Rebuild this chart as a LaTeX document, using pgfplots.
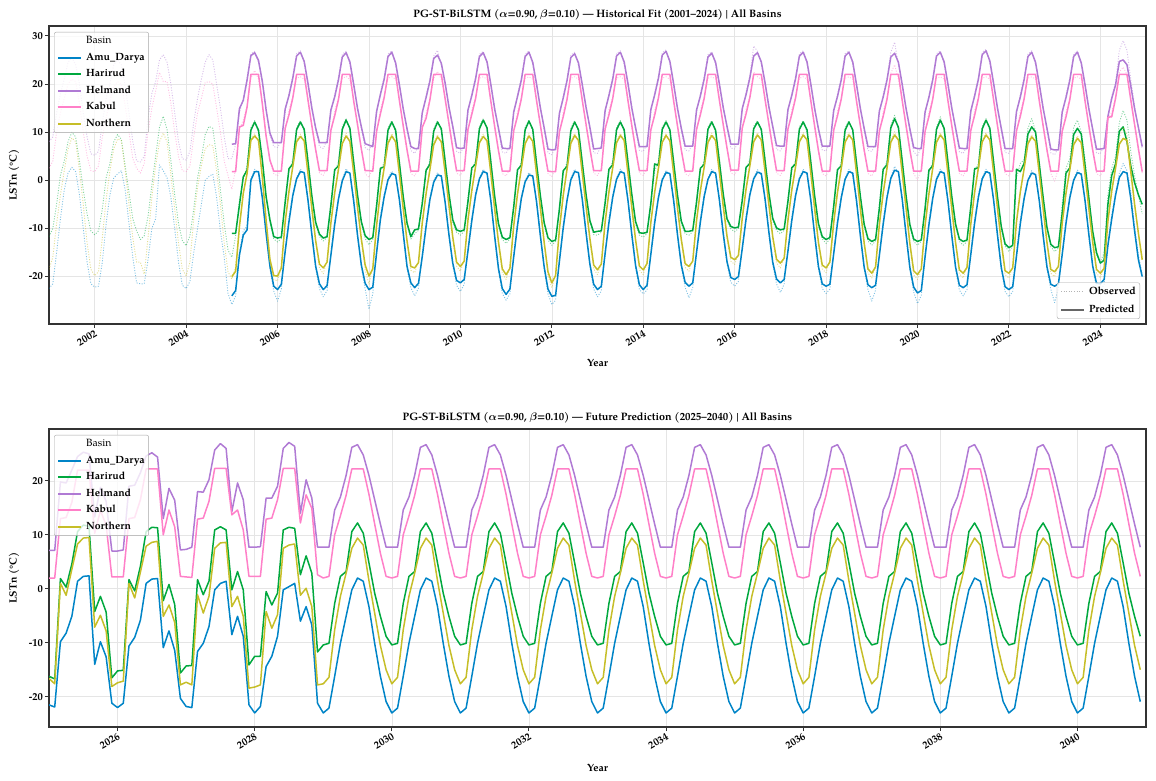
\documentclass[border=0pt]{standalone}
\usepackage{fontspec}
\setmainfont{TeX Gyre Pagella}
\usepackage{pgfplots}
\usepackage{pgfplotstable}
\pgfplotsset{compat=1.18}
\definecolor{cA}{RGB}{0,132,199}
\definecolor{cH}{RGB}{0,168,62}
\definecolor{cHe}{RGB}{176,122,212}
\definecolor{cK}{RGB}{255,128,200}
\definecolor{cN}{RGB}{198,190,40}
\newcommand\lbl{\bfseries\fontsize{10.5}{12}\selectfont}
\newcommand\ttl{\bfseries\boldmath\fontsize{10.8}{12}\selectfont}

\pgfplotstableread{
m A H He K N
0 -22.5 -11.7 8.0 2.5 -18.5
1 -21.5 -10.0 9.0 4.0 -16.0
2 -15.0 -5.0 14.0 10.0 -9.0
3 -8.0 1.0 18.0 14.0 -3.0
4 -2.0 4.0 21.0 17.0 2.0
5 1.5 8.0 24.5 20.0 6.5
6 2.7 10.0 25.5 21.0 8.8
7 1.8 9.0 24.0 20.5 8.0
8 -3.0 4.0 20.0 16.0 2.0
9 -10.0 -2.0 14.0 10.0 -5.0
10 -17.0 -7.0 9.0 5.0 -13.0
11 -21.5 -10.5 5.5 2.0 -18.5
12 -22.2 -11.3 5.2 1.8 -19.8
13 -22.0 -10.5 6.0 3.0 -19.0
14 -17.0 -6.0 12.0 9.0 -12.0
15 -9.0 0.5 17.0 13.0 -4.0
16 -3.0 3.5 20.0 16.5 2.0
17 0.5 8.0 24.0 19.5 6.5
18 1.3 9.5 25.0 20.5 8.6
19 2.0 8.5 24.0 20.0 8.2
20 -2.0 3.0 19.5 15.5 2.0
21 -9.0 -2.5 14.0 10.0 -5.0
22 -16.0 -8.0 8.0 4.5 -12.0
23 -21.3 -10.5 4.0 2.5 -17.0
24 -21.5 -12.3 3.8 1.5 -17.0
25 -21.5 -11.5 5.0 3.5 -19.5
26 -16.5 -7.5 13.0 10.0 -12.0
27 -10.0 -1.0 18.0 15.0 -3.5
28 -8.0 5.0 20.5 18.5 3.0
29 3.2 11.0 25.0 22.4 8.0
30 2.0 13.3 26.1 20.5 9.8
31 0.5 10.5 24.5 20.5 8.0
32 -3.5 4.0 20.0 16.0 1.0
33 -10.0 -3.0 14.0 10.0 -6.0
34 -17.0 -9.0 8.0 5.0 -13.0
35 -21.8 -12.5 4.5 2.0 -18.5
36 -22.5 -13.6 4.2 1.8 -19.8
37 -21.0 -11.5 6.0 3.0 -17.0
38 -15.0 -6.0 12.0 9.0 -8.0
39 -10.0 0.5 17.0 14.0 -1.5
40 -5.0 4.5 21.0 17.0 3.0
41 0.0 9.5 24.5 20.3 6.5
42 0.8 11.2 26.1 20.5 7.4
43 1.3 10.8 25.0 20.0 7.2
44 -3.5 5.0 20.0 15.0 2.0
45 -10.5 -2.0 15.0 10.0 -5.0
46 -16.0 -9.0 9.0 4.0 -13.0
47 -23.5 -14.5 4.5 1.0 -19.0
48 -25.8 -16.0 4.5 -1.9 -20.5
49 -24.0 -11.5 7.5 2.5 -18.0
50 -15.0 -4.0 14.0 10.5 -9.0
51 -10.5 0.2 17.0 12.5 -3.2
52 -9.5 3.0 21.3 15.5 2.0
53 0.3 10.9 26.3 21.2 8.6
54 2.3 12.4 26.8 22.8 9.7
55 1.5 9.9 24.4 21.0 8.0
56 -3.1 5.0 20.1 16.4 1.0
57 -11.5 -3.7 15.1 8.7 -8.8
58 -18.3 -8.7 9.3 3.9 -16.9
59 -23.0 -12.2 7.0 1.4 -20.6
60 -25.1 -12.8 6.8 0.9 -20.9
61 -22.6 -12.1 8.3 2.4 -17.9
62 -14.3 -3.6 14.3 10.3 -8.2
63 -7.8 1.9 18.1 14.6 -2.8
64 -2.7 4.2 21.7 17.4 3.3
65 0.6 11.0 26.3 21.2 8.3
66 2.3 12.4 26.9 21.5 9.6
67 1.3 10.1 24.2 21.0 7.9
68 -3.7 4.6 19.6 17.1 1.6
69 -11.7 -3.5 15.5 10.9 -6.3
70 -18.3 -9.2 10.4 6.1 -13.0
71 -22.5 -11.7 7.0 1.5 -18.2
72 -24.2 -12.6 6.6 1.0 -19.4
73 -22.9 -11.9 8.4 2.6 -16.6
74 -15.0 -4.4 14.0 9.8 -8.4
75 -8.5 1.6 17.9 14.5 -3.1
76 -3.4 3.9 21.4 17.2 2.8
77 0.2 11.2 26.2 21.1 8.0
78 2.4 12.9 26.8 21.6 9.8
79 1.2 10.2 24.0 20.9 7.8
80 -3.8 4.5 19.4 16.9 1.7
81 -11.9 -3.4 15.4 11.1 -6.1
82 -18.1 -9.1 10.6 6.2 -12.7
83 -22.6 -12.1 6.8 1.4 -18.6
84 -26.8 -13.4 6.2 0.6 -21.6
85 -23.6 -12.3 7.6 2.5 -18.0
86 -14.6 -4.4 13.8 9.7 -8.9
87 -7.4 2.0 18.3 14.8 -2.9
88 -2.9 3.7 21.5 17.5 3.1
89 0.4 10.9 26.2 21.2 8.0
90 1.9 12.4 26.9 21.5 9.7
91 0.8 9.9 23.9 21.0 7.7
92 -3.6 4.3 19.3 17.0 1.5
93 -11.5 -3.7 15.3 10.8 -6.4
94 -18.4 -9.4 10.2 6.0 -13.1
95 -22.3 -12.2 6.2 1.4 -18.7
96 -24.0 -11.1 5.6 0.9 -19.2
97 -22.4 -10.4 7.1 2.4 -16.8
98 -15.3 -3.8 13.6 10.5 -8.3
99 -8.8 1.6 17.7 13.9 -3.2
100 -3.5 4.1 21.1 17.0 2.7
101 -0.1 10.7 25.8 21.2 7.7
102 1.6 12.4 27.0 22.6 9.5
103 0.6 10.2 23.8 21.0 7.7
104 -4.1 4.7 19.7 17.4 1.9
105 -11.8 -3.1 15.7 11.3 -5.7
106 -17.7 -8.7 10.7 6.4 -12.3
107 -21.8 -10.8 6.0 1.5 -17.8
108 -23.1 -11.4 5.6 1.0 -18.9
109 -21.6 -10.6 7.2 2.5 -16.5
110 -14.1 -3.4 14.1 10.1 -7.7
111 -7.6 2.1 18.1 14.7 -2.6
112 -2.6 4.2 21.6 17.3 3.4
113 0.6 11.2 26.2 21.2 8.1
114 2.3 12.8 26.8 21.5 9.6
115 1.2 10.4 24.1 21.0 7.9
116 -3.8 4.5 19.4 16.9 1.7
117 -12.1 -3.6 15.3 10.7 -6.4
118 -18.8 -9.5 10.3 5.9 -13.3
119 -23.5 -12.3 5.9 1.4 -19.2
120 -24.9 -13.1 5.6 0.9 -20.6
121 -23.6 -12.2 7.1 2.4 -18.0
122 -15.4 -4.6 13.7 9.8 -9.0
123 -8.6 1.7 17.9 14.3 -3.3
124 -3.3 3.9 21.3 17.2 2.9
125 0.0 11.0 26.2 21.2 7.9
126 1.6 12.6 26.9 21.5 9.7
127 0.6 10.1 24.0 21.0 7.8
128 -4.0 4.2 19.5 17.0 1.6
129 -12.0 -3.5 15.5 11.0 -6.2
130 -18.5 -9.3 10.4 6.1 -13.4
131 -23.6 -12.4 5.7 1.4 -19.8
132 -25.8 -13.5 5.3 0.8 -22.3
133 -24.9 -12.7 6.9 2.3 -19.5
134 -16.3 -5.0 13.4 9.6 -9.7
135 -9.1 1.5 17.6 14.2 -3.6
136 -3.7 3.7 21.2 17.1 2.8
137 0.4 10.8 26.0 21.2 8.0
138 2.3 12.4 26.6 21.5 9.8
139 1.3 10.0 23.9 21.0 8.0
140 -3.5 4.4 19.4 17.1 1.8
141 -11.4 -3.3 15.6 11.1 -5.9
142 -17.9 -8.9 10.5 6.3 -12.6
143 -22.6 -11.3 5.7 1.5 -18.4
144 -24.2 -11.4 5.6 1.0 -19.6
145 -23.0 -10.8 7.2 2.5 -17.1
146 -14.7 -3.7 14.0 10.2 -8.2
147 -8.0 1.8 18.1 14.6 -2.9
148 -3.0 4.0 21.5 17.3 3.1
149 0.5 11.0 26.3 21.2 8.1
150 2.3 12.4 26.9 21.5 9.8
151 1.2 10.0 24.1 21.0 8.0
152 -3.7 4.5 19.6 17.0 1.7
153 -11.7 -3.2 15.5 10.9 -6.1
154 -18.2 -9.1 10.4 6.1 -12.9
155 -22.7 -11.4 6.2 1.5 -18.6
156 -23.6 -11.8 6.0 1.0 -19.6
157 -22.8 -11.1 7.5 2.5 -17.0
158 -14.9 -3.9 14.2 10.0 -8.3
159 -8.1 1.9 18.2 14.5 -3.0
160 -3.1 3.9 21.7 17.4 3.0
161 0.4 11.1 26.5 21.2 8.2
162 2.1 12.4 27.1 21.5 9.8
163 1.1 10.0 24.2 21.0 7.9
164 -3.8 4.4 19.5 16.9 1.6
165 -11.8 -3.4 15.4 10.8 -6.2
166 -18.1 -9.0 10.3 6.0 -12.8
167 -22.2 -11.1 6.3 1.4 -18.1
168 -24.4 -11.4 6.1 0.9 -18.9
169 -22.3 -10.7 7.6 2.4 -16.5
170 -14.5 -3.6 14.1 10.1 -7.9
171 -7.9 2.0 18.0 14.6 -2.7
172 -2.9 4.1 21.5 17.3 3.2
173 0.5 11.1 26.1 21.2 8.2
174 2.3 12.4 26.7 21.5 9.8
175 1.2 9.9 24.0 21.0 8.0
176 -3.6 4.6 19.5 17.1 1.9
177 -11.5 -3.1 15.6 11.1 -5.8
178 -17.4 -8.5 10.7 6.4 -12.1
179 -21.2 -10.1 6.7 1.6 -16.8
180 -22.0 -10.7 6.5 1.1 -17.5
181 -21.0 -10.0 8.0 2.6 -15.3
182 -13.7 -3.2 14.4 10.4 -7.4
183 -7.3 2.2 18.3 14.8 -2.3
184 -2.5 4.3 21.8 17.5 3.5
185 0.6 11.2 27.9 22.5 8.3
186 2.2 12.4 26.8 21.5 9.9
187 1.1 10.1 24.1 21.0 8.1
188 -3.5 4.7 19.7 17.2 2.0
189 -11.3 -3.0 15.7 11.2 -5.6
190 -17.5 -8.4 10.7 6.4 -12.2
191 -21.5 -10.4 6.4 1.5 -17.2
192 -23.3 -11.1 6.1 1.0 -18.2
193 -21.6 -10.4 7.6 2.5 -15.9
194 -14.2 -3.4 14.2 10.2 -7.8
195 -7.6 2.1 18.1 14.7 -2.5
196 -2.7 4.2 21.6 17.4 3.3
197 0.6 11.1 26.3 21.2 8.3
198 2.3 12.4 26.9 21.5 9.9
199 1.2 10.0 24.1 21.0 8.1
200 -3.7 4.5 19.5 17.0 1.8
201 -11.8 -3.5 15.4 10.8 -6.3
202 -18.4 -9.5 10.2 5.9 -13.4
203 -22.5 -12.2 6.3 1.4 -18.4
204 -23.5 -13.1 6.1 0.9 -19.2
205 -22.6 -12.2 7.6 2.4 -16.7
206 -14.8 -4.5 14.0 9.9 -8.4
207 -8.1 1.7 17.9 14.4 -3.0
208 -3.1 3.8 21.4 17.2 3.0
209 0.5 10.9 26.3 21.2 8.2
210 2.3 12.4 26.9 21.5 9.9
211 1.2 10.0 24.1 21.0 8.1
212 -3.8 4.3 19.4 16.9 1.7
213 -11.9 -3.6 15.4 10.9 -6.3
214 -18.5 -9.6 10.3 6.0 -13.5
215 -22.7 -12.6 6.2 1.4 -19.2
216 -25.1 -13.5 6.0 0.9 -20.3
217 -22.8 -12.6 7.5 2.4 -17.7
218 -15.1 -4.8 13.9 9.8 -8.7
219 -8.3 1.8 17.8 14.3 -3.1
220 -3.1 4.0 21.3 17.1 3.0
221 0.7 11.4 26.6 22.2 8.2
222 2.9 13.5 28.7 24.0 10.1
223 1.5 10.5 24.0 21.0 8.1
224 -3.5 4.7 19.4 17.0 1.8
225 -11.7 -3.5 15.4 10.9 -6.2
226 -18.6 -9.7 10.2 6.0 -13.6
227 -23.2 -12.7 6.0 1.4 -19.6
228 -25.6 -13.5 5.0 0.0 -20.6
229 -23.9 -12.7 7.1 2.4 -18.1
230 -15.4 -4.9 13.7 9.7 -8.9
231 -8.5 1.6 17.7 14.2 -3.3
232 -3.3 3.8 21.3 17.1 2.9
233 0.5 11.1 26.3 21.2 8.2
234 2.3 13.2 26.9 21.5 9.9
235 1.2 10.3 24.1 21.0 8.1
236 -3.8 4.5 19.5 17.0 1.7
237 -11.9 -3.6 15.5 10.9 -6.3
238 -18.5 -9.6 10.4 6.1 -13.4
239 -22.8 -12.7 5.9 1.4 -19.4
240 -24.0 -13.5 5.6 0.9 -20.3
241 -22.7 -12.7 7.1 2.4 -17.8
242 -14.9 -4.6 13.9 9.9 -8.6
243 -8.1 1.9 18.0 14.5 -3.0
244 -3.0 3.4 21.5 17.3 3.1
245 0.6 11.2 26.6 21.2 8.3
246 2.3 12.8 27.2 21.5 9.9
247 1.2 10.3 24.3 21.0 8.1
248 -3.7 4.4 19.6 17.1 1.8
249 -11.8 -3.7 15.5 10.9 -6.2
250 -18.6 -10.1 10.3 6.0 -13.4
251 -23.1 -13.7 5.8 1.4 -19.6
252 -24.2 -14.8 5.6 0.9 -20.3
253 -23.1 -13.8 7.1 2.4 -17.9
254 -15.2 0.5 13.8 9.8 -8.1
255 -8.2 3.5 17.8 14.3 -2.9
256 -3.3 4.3 21.4 17.2 2.9
257 0.3 10.8 26.2 21.2 7.9
258 2.0 12.8 26.9 21.5 9.5
259 0.9 10.2 24.0 21.0 7.8
260 -3.9 4.0 19.4 16.9 1.5
261 -12.0 -3.9 15.4 10.8 -6.4
262 -18.5 -10.3 10.3 6.0 -13.4
263 -22.6 -13.8 5.7 1.4 -19.3
264 -25.4 -14.8 5.3 -0.2 -20.0
265 -22.5 -14.1 6.8 2.4 -17.6
266 -14.9 -5.0 13.7 9.7 -8.4
267 -8.1 2.5 17.7 14.2 -3.1
268 -3.1 4.5 21.3 17.1 2.7
269 0.3 11.0 26.2 21.2 7.7
270 2.1 12.5 26.9 21.5 9.2
271 1.0 10.0 23.9 21.0 7.5
272 -3.8 4.5 19.3 16.9 1.4
273 -11.8 -3.0 15.3 10.8 -6.4
274 -18.3 -11.1 10.1 6.0 -13.3
275 -22.4 -15.5 5.7 1.4 -19.3
276 -23.0 -17.0 5.5 0.9 -20.3
277 -21.6 -15.0 7.1 2.4 -18.0
278 -13.0 -3.0 12.8 12.6 -8.0
279 -7.2 2.5 17.5 14.2 -2.7
280 -2.6 5.0 20.3 17.3 3.0
281 1.5 12.0 27.0 22.5 9.0
282 3.5 14.5 29.0 23.5 11.0
283 2.0 12.5 27.0 22.0 9.5
284 -2.5 6.0 21.0 17.5 3.0
285 -9.5 1.0 15.5 11.5 -4.5
286 -15.5 -3.0 10.5 6.0 -11.5
287 -19.5 -7.0 6.5 1.5 -16.0
}\obstop

\pgfplotstableread{
m A H He K N
48 -24.0 -11.0 7.5 1.8 -20.0
49 -22.9 -11.0 7.6 1.8 -18.9
50 -15.5 -5.1 14.9 11.1 -9.6
51 -11.4 0.7 16.6 11.4 -2.7
52 -10.3 2.1 20.8 15.2 1.4
53 0.0 10.4 25.9 22.0 8.3
54 1.8 12.1 26.5 22.0 9.2
55 1.8 10.4 24.9 22.0 8.3
56 -3.6 4.2 20.6 15.9 0.7
57 -11.0 -3.4 14.6 9.2 -8.3
58 -17.8 -8.2 9.8 4.2 -16.4
59 -22.0 -11.7 7.8 1.9 -19.8
60 -22.7 -12.0 7.8 1.9 -19.9
61 -21.6 -11.8 7.8 1.9 -18.2
62 -14.8 -4.6 14.8 10.8 -8.7
63 -8.6 2.4 17.6 13.6 -2.3
64 -3.2 3.4 21.2 17.1 2.8
65 0.3 10.5 25.8 22.0 8.0
66 1.8 12.1 26.6 22.0 9.1
67 1.6 10.6 24.7 22.0 8.2
68 -4.2 3.8 20.1 16.6 1.3
69 -11.2 -3.2 15.0 11.4 -5.8
70 -17.8 -8.7 10.9 6.4 -12.5
71 -21.5 -11.2 7.8 2.0 -17.4
72 -22.7 -12.0 7.8 2.0 -18.2
73 -21.9 -11.7 7.8 2.0 -17.0
74 -15.6 -5.3 14.6 10.4 -8.9
75 -9.2 2.2 17.3 13.4 -2.6
76 -3.9 3.0 20.9 16.8 2.3
77 -0.1 10.6 25.6 22.0 7.6
78 1.8 12.5 26.5 22.0 9.2
79 1.5 10.8 24.6 22.0 8.1
80 -4.4 3.6 19.9 16.4 1.4
81 -11.4 -3.1 14.9 11.6 -5.6
82 -17.6 -8.6 11.1 6.5 -12.2
83 -21.4 -11.5 7.6 2.0 -17.6
84 -22.7 -12.3 7.3 2.0 -19.9
85 -22.2 -11.9 7.0 1.9 -18.4
86 -15.1 -5.4 14.3 10.2 -9.4
87 -8.2 2.5 17.8 13.8 -2.4
88 -3.4 2.8 21.0 17.2 2.6
89 0.1 10.4 25.7 22.0 7.7
90 1.4 12.1 26.6 22.0 9.2
91 1.1 10.4 24.4 22.0 8.0
92 -4.1 3.5 19.8 16.5 1.2
93 -11.0 -3.4 14.8 11.3 -5.9
94 -17.9 -8.9 10.7 6.3 -12.6
95 -21.3 -11.7 7.0 1.9 -17.9
96 -22.3 -10.3 6.6 1.9 -18.2
97 -21.4 -10.1 6.6 1.9 -17.1
98 -15.8 -4.8 14.1 11.0 -8.8
99 -9.6 2.1 17.2 12.9 -2.7
100 -4.0 3.3 20.6 16.7 2.2
101 -0.4 10.2 25.3 22.0 7.4
102 1.1 12.1 26.0 22.0 9.0
103 0.9 10.7 24.3 22.0 8.0
104 -4.6 3.9 20.2 16.9 1.6
105 -11.3 -2.8 15.2 11.8 -5.2
106 -17.2 -8.2 11.2 6.7 -11.8
107 -20.8 -10.3 6.8 2.0 -17.0
108 -21.3 -10.6 6.6 2.0 -17.9
109 -20.6 -10.3 6.7 2.0 -16.8
110 -14.6 -4.4 14.6 10.6 -8.2
111 -8.4 2.6 17.6 13.7 -2.1
112 -3.1 3.4 21.1 17.0 2.9
113 0.3 10.7 25.7 22.0 7.8
114 1.8 12.5 26.5 22.0 9.1
115 1.5 10.9 24.6 22.0 8.2
116 -4.3 3.7 19.9 16.4 1.4
117 -11.6 -3.3 14.8 11.2 -5.9
118 -18.3 -9.0 10.8 6.2 -12.8
119 -22.5 -11.8 6.7 1.9 -18.4
120 -23.7 -12.3 6.6 1.9 -19.6
121 -22.6 -11.9 6.6 1.9 -18.3
122 -15.9 -5.6 14.2 10.3 -9.5
123 -9.4 2.2 17.4 13.3 -2.8
124 -3.8 3.1 20.8 16.9 2.4
125 -0.3 10.5 25.7 22.0 7.6
126 1.1 12.3 26.6 22.0 9.2
127 0.9 10.6 24.5 22.0 8.1
128 -4.5 3.4 20.0 16.5 1.3
129 -11.5 -3.2 15.0 11.5 -5.7
130 -18.0 -8.8 10.9 6.4 -12.9
131 -22.6 -11.9 6.5 1.9 -19.0
132 -24.1 -12.7 6.3 1.8 -21.3
133 -23.9 -12.4 6.4 1.8 -19.8
134 -16.8 -6.0 13.9 10.1 -10.2
135 -9.9 2.0 17.1 13.2 -3.1
136 -4.2 2.9 20.7 16.8 2.3
137 0.1 10.3 25.5 22.0 7.7
138 1.8 12.1 26.3 22.0 9.3
139 1.6 10.5 24.4 22.0 8.3
140 -4.0 3.6 19.9 16.6 1.5
141 -10.9 -3.0 15.1 11.6 -5.4
142 -17.4 -8.4 11.0 6.6 -12.1
143 -21.6 -10.8 6.5 2.0 -17.6
144 -22.7 -10.6 6.6 2.0 -18.6
145 -22.0 -10.5 6.7 2.0 -17.4
146 -15.2 -4.7 14.5 10.7 -8.7
147 -8.8 2.3 17.6 13.6 -2.4
148 -3.5 3.2 21.0 17.0 2.6
149 0.2 10.5 25.8 22.0 7.8
150 1.8 12.1 26.6 22.0 9.3
151 1.5 10.5 24.6 22.0 8.3
152 -4.2 3.7 20.1 16.5 1.4
153 -11.2 -2.9 15.0 11.4 -5.6
154 -17.7 -8.6 10.9 6.4 -12.4
155 -21.7 -10.9 7.0 2.0 -17.8
156 -22.7 -11.0 7.0 2.0 -18.6
157 -21.8 -10.8 7.0 2.0 -17.3
158 -15.4 -4.9 14.7 10.5 -8.8
159 -8.9 3.4 17.7 13.5 -2.5
160 -3.6 3.1 21.2 17.1 2.5
161 0.1 10.6 26.0 22.0 7.9
162 1.6 12.1 26.8 22.0 9.3
163 1.4 10.5 24.7 22.0 8.2
164 -4.3 3.6 20.0 16.4 1.3
165 -11.3 -3.1 14.9 11.3 -5.7
166 -17.6 -8.5 10.8 6.3 -12.3
167 -21.2 -10.6 7.1 1.9 -17.3
168 -22.0 -10.6 7.1 1.9 -17.9
169 -21.3 -10.4 7.1 1.9 -16.8
170 -15.0 -4.6 14.6 10.6 -8.4
171 -8.7 2.5 17.5 13.6 -2.2
172 -3.4 3.3 21.0 17.0 2.7
173 0.2 10.6 25.6 22.0 7.9
174 1.8 12.1 26.4 22.0 9.3
175 1.5 10.4 24.5 22.0 8.3
176 -4.1 3.8 20.0 16.6 1.6
177 -11.0 -2.8 15.1 11.6 -5.3
178 -16.9 -8.0 11.2 6.7 -11.6
179 -20.2 -9.6 7.5 2.1 -16.0
180 -20.6 -9.9 7.5 2.1 -16.5
181 -20.0 -9.7 7.5 2.1 -15.6
182 -14.2 -4.2 14.9 10.9 -7.9
183 -8.1 2.7 17.8 13.8 -1.8
184 -3.0 3.5 21.3 17.2 3.0
185 0.3 10.7 25.8 22.0 8.0
186 1.7 12.1 26.5 22.0 9.4
187 1.4 10.6 24.6 22.0 8.4
188 -4.0 3.9 20.2 16.7 1.7
189 -10.8 -2.7 15.2 11.7 -5.1
190 -17.0 -7.9 11.2 6.7 -11.7
191 -20.5 -9.9 7.2 2.0 -16.4
192 -21.3 -10.3 7.1 2.0 -17.2
193 -20.6 -10.1 7.1 2.0 -16.2
194 -14.7 -4.4 14.7 10.7 -8.3
195 -8.4 2.6 17.6 13.7 -2.0
196 -3.2 3.4 21.1 17.1 2.8
197 0.3 10.6 25.8 22.0 8.0
198 1.8 12.1 26.6 22.0 9.4
199 1.5 10.5 24.6 22.0 8.4
200 -4.2 3.7 20.0 16.5 1.5
201 -11.3 -3.2 14.9 11.3 -5.8
202 -17.9 -9.0 10.7 6.2 -12.9
203 -21.5 -11.7 7.1 1.9 -17.6
204 -22.0 -12.3 7.1 1.9 -18.2
205 -21.6 -11.9 7.1 1.9 -17.0
206 -15.3 -5.5 14.5 10.4 -8.9
207 -8.9 2.2 17.4 13.4 -2.5
208 -3.6 3.0 20.9 16.9 2.5
209 0.2 10.4 25.8 22.0 7.9
210 1.8 12.1 26.6 22.0 9.4
211 1.5 10.5 24.6 22.0 8.4
212 -4.3 3.5 19.9 16.4 1.4
213 -11.4 -3.3 14.9 11.4 -5.8
214 -18.0 -9.1 10.8 6.3 -13.0
215 -21.7 -12.1 7.0 1.9 -18.4
216 -22.3 -12.7 7.0 1.9 -19.3
217 -21.8 -12.3 7.0 1.9 -18.0
218 -15.6 -5.8 14.4 10.3 -9.2
219 -9.1 2.3 17.3 13.3 -2.6
220 -3.6 3.2 20.8 16.8 2.5
221 0.4 10.9 25.6 22.0 7.9
222 2.1 12.8 26.4 22.0 9.4
223 1.8 11.0 24.5 22.0 8.4
224 -4.0 3.9 19.9 16.5 1.5
225 -11.2 -3.2 14.9 11.4 -5.7
226 -18.1 -9.2 10.7 6.3 -13.1
227 -22.2 -12.2 6.8 1.9 -18.8
228 -23.4 -12.7 6.6 1.9 -19.6
229 -22.9 -12.4 6.6 1.9 -18.4
230 -15.9 -5.9 14.2 10.2 -9.4
231 -9.3 2.1 17.2 13.2 -2.8
232 -3.8 3.0 20.8 16.8 2.4
233 0.2 10.6 25.8 22.0 7.9
234 1.8 12.5 26.6 22.0 9.4
235 1.5 10.8 24.6 22.0 8.4
236 -4.3 3.7 20.0 16.5 1.4
237 -11.4 -3.3 15.0 11.4 -5.8
238 -18.0 -9.1 10.9 6.4 -12.9
239 -21.8 -12.2 6.7 1.9 -18.6
240 -22.3 -12.7 6.6 1.9 -19.3
241 -21.7 -12.4 6.6 1.9 -18.1
242 -15.4 -5.6 14.4 10.4 -9.1
243 -8.9 2.4 17.5 13.5 -2.5
244 -3.5 2.6 21.0 17.0 2.6
245 0.3 10.7 26.1 22.0 8.0
246 1.8 12.5 26.9 22.0 9.4
247 1.5 10.8 24.8 22.0 8.4
248 -4.2 3.6 20.1 16.6 1.5
249 -11.3 -3.4 15.0 11.4 -5.7
250 -18.1 -9.6 10.8 6.3 -12.9
251 -22.1 -13.2 6.6 1.9 -18.8
252 -22.7 -14.0 6.6 1.9 -19.3
253 -22.1 -13.5 6.6 1.9 -18.2
254 -15.7 2.3 14.3 10.3 -8.6
255 -9.0 1.8 17.3 13.3 -2.4
256 -3.8 3.5 20.9 16.9 2.4
257 0.0 9.6 25.7 22.0 7.6
258 1.5 11.1 26.6 22.0 9.0
259 1.2 10.0 24.5 22.0 8.1
260 -4.4 3.2 19.9 16.4 1.2
261 -11.5 -3.6 14.9 11.3 -5.9
262 -18.0 -9.8 10.8 6.3 -12.9
263 -21.6 -13.3 6.5 1.9 -18.5
264 -22.0 -14.0 6.3 1.9 -19.0
265 -21.5 -13.8 6.3 1.9 -17.9
266 -15.4 -6.8 14.2 10.2 -8.9
267 -8.9 1.5 17.2 13.2 -2.6
268 -3.6 2.6 20.8 16.8 2.2
269 0.0 9.5 25.7 22.0 7.4
270 1.6 10.8 26.6 22.0 8.7
271 1.3 9.6 24.4 22.0 7.8
272 -4.3 3.0 19.8 16.4 1.1
273 -11.3 -3.8 14.8 11.3 -5.9
274 -17.8 -10.6 10.6 6.3 -12.8
275 -21.4 -15.0 6.5 1.9 -18.5
276 -21.5 -17.2 6.5 1.9 -19.3
277 -20.6 -16.6 6.6 1.9 -18.3
278 -13.5 -5.0 13.3 13.1 -8.5
279 -8.0 1.0 17.0 13.2 -2.2
280 -3.1 3.4 19.8 17.0 2.5
281 0.6 10.2 24.7 22.0 7.5
282 1.8 11.1 25.0 22.0 8.7
283 1.5 8.0 24.0 22.0 8.3
284 -3.8 3.0 19.6 16.7 1.8
285 -10.5 -0.5 14.9 11.6 -5.0
286 -16.5 -3.0 11.0 6.6 -11.0
287 -20.0 -5.0 7.0 1.8 -16.5
}\predtop

\pgfplotstableread{
m A H He K N
0 -21.5 -16.2 7.1 2.0 -16.6
1 -21.9 -16.7 7.1 2.0 -17.6
2 -9.8 1.9 19.8 13.0 1.0
3 -8.2 0.3 19.6 13.2 -1.2
4 -5.1 4.6 22.0 16.0 3.6
5 1.4 10.6 24.5 22.0 8.3
6 2.3 11.8 25.3 22.0 9.4
7 2.4 11.6 25.0 22.0 9.5
8 -14.0 -4.2 13.3 10.3 -7.1
9 -9.8 -1.4 18.8 14.5 -4.9
10 -12.6 -4.3 16.2 11.8 -7.8
11 -21.2 -16.5 7.0 2.2 -18.1
12 -22.0 -15.2 7.0 2.2 -17.4
13 -21.2 -15.1 7.2 2.2 -17.1
14 -10.6 1.7 19.0 13.0 1.0
15 -9.0 -0.4 19.2 13.2 -1.7
16 -5.8 4.2 21.5 16.5 3.1
17 1.0 10.6 24.6 22.2 7.9
18 1.8 11.4 25.2 22.2 8.6
19 1.9 11.3 24.4 22.2 8.8
20 -10.9 -2.2 13.0 10.0 -5.1
21 -7.8 0.8 18.6 14.6 -3.0
22 -11.4 -2.9 16.4 11.5 -6.2
23 -20.3 -15.6 7.2 2.3 -17.8
24 -21.8 -14.3 7.3 2.2 -17.3
25 -22.0 -14.2 7.7 2.1 -17.8
26 -11.6 1.7 18.0 12.9 -1.1
27 -10.1 -1.1 17.9 13.1 -4.5
28 -7.0 1.4 20.2 16.2 -1.4
29 -0.2 10.9 25.7 22.3 7.5
30 1.0 11.5 26.9 22.3 8.5
31 1.4 10.9 26.0 22.3 8.6
32 -8.5 -0.2 14.3 13.7 -3.3
33 -5.1 3.2 19.6 14.6 -1.4
34 -8.8 -0.2 16.5 10.9 -5.1
35 -21.5 -14.1 7.7 2.3 -18.4
36 -23.0 -12.5 7.7 2.3 -18.2
37 -21.8 -12.5 7.8 2.3 -17.8
38 -14.4 -0.5 16.8 12.9 -4.2
39 -12.5 -3.0 16.8 13.1 -7.3
40 -8.8 -0.8 19.0 16.5 -4.8
41 -0.2 10.9 26.0 22.3 7.5
42 0.4 11.4 27.1 22.3 8.1
43 1.0 11.2 26.4 22.3 8.3
44 -6.0 2.6 14.0 12.2 -1.2
45 -3.3 6.1 20.2 17.4 0.1
46 -6.7 2.9 16.8 14.9 -3.3
47 -21.2 -11.7 7.7 2.6 -17.8
48 -23.0 -10.4 7.7 2.0 -17.6
49 -22.1 -10.1 7.7 2.3 -16.4
50 -16.2 -2.7 14.6 10.0 -7.6
51 -10.1 2.3 17.0 13.5 -1.4
52 -5.1 3.2 21.0 17.3 2.9
53 -0.2 10.6 26.2 22.2 7.5
54 2.0 12.2 26.7 22.2 9.4
55 1.4 10.3 24.8 22.2 8.1
56 -3.3 4.8 21.0 17.5 1.5
57 -10.1 -0.8 16.5 12.0 -4.5
58 -16.2 -5.1 12.0 6.6 -10.5
59 -20.9 -8.8 7.7 2.3 -15.0
60 -23.0 -10.4 7.7 2.0 -17.6
61 -22.1 -10.1 7.7 2.3 -16.4
62 -16.2 -2.7 14.6 10.0 -7.6
63 -10.1 2.3 17.0 13.5 -1.4
64 -5.1 3.2 21.0 17.3 2.9
65 -0.2 10.6 26.2 22.2 7.5
66 2.0 12.2 26.7 22.2 9.4
67 1.4 10.3 24.8 22.2 8.1
68 -3.3 4.8 21.0 17.5 1.5
69 -10.1 -0.8 16.5 12.0 -4.5
70 -16.2 -5.1 12.0 6.6 -10.5
71 -20.9 -8.8 7.7 2.3 -15.0
72 -23.0 -10.4 7.7 2.0 -17.6
73 -22.1 -10.1 7.7 2.3 -16.4
74 -16.2 -2.7 14.6 10.0 -7.6
75 -10.1 2.3 17.0 13.5 -1.4
76 -5.1 3.2 21.0 17.3 2.9
77 -0.2 10.6 26.2 22.2 7.5
78 2.0 12.2 26.7 22.2 9.4
79 1.4 10.3 24.8 22.2 8.1
80 -3.3 4.8 21.0 17.5 1.5
81 -10.1 -0.8 16.5 12.0 -4.5
82 -16.2 -5.1 12.0 6.6 -10.5
83 -20.9 -8.8 7.7 2.3 -15.0
84 -23.0 -10.4 7.7 2.0 -17.6
85 -22.1 -10.1 7.7 2.3 -16.4
86 -16.2 -2.7 14.6 10.0 -7.6
87 -10.1 2.3 17.0 13.5 -1.4
88 -5.1 3.2 21.0 17.3 2.9
89 -0.2 10.6 26.2 22.2 7.5
90 2.0 12.2 26.7 22.2 9.4
91 1.4 10.3 24.8 22.2 8.1
92 -3.3 4.8 21.0 17.5 1.5
93 -10.1 -0.8 16.5 12.0 -4.5
94 -16.2 -5.1 12.0 6.6 -10.5
95 -20.9 -8.8 7.7 2.3 -15.0
96 -23.0 -10.4 7.7 2.0 -17.6
97 -22.1 -10.1 7.7 2.3 -16.4
98 -16.2 -2.7 14.6 10.0 -7.6
99 -10.1 2.3 17.0 13.5 -1.4
100 -5.1 3.2 21.0 17.3 2.9
101 -0.2 10.6 26.2 22.2 7.5
102 2.0 12.2 26.7 22.2 9.4
103 1.4 10.3 24.8 22.2 8.1
104 -3.3 4.8 21.0 17.5 1.5
105 -10.1 -0.8 16.5 12.0 -4.5
106 -16.2 -5.1 12.0 6.6 -10.5
107 -20.9 -8.8 7.7 2.3 -15.0
108 -23.0 -10.4 7.7 2.0 -17.6
109 -22.1 -10.1 7.7 2.3 -16.4
110 -16.2 -2.7 14.6 10.0 -7.6
111 -10.1 2.3 17.0 13.5 -1.4
112 -5.1 3.2 21.0 17.3 2.9
113 -0.2 10.6 26.2 22.2 7.5
114 2.0 12.2 26.7 22.2 9.4
115 1.4 10.3 24.8 22.2 8.1
116 -3.3 4.8 21.0 17.5 1.5
117 -10.1 -0.8 16.5 12.0 -4.5
118 -16.2 -5.1 12.0 6.6 -10.5
119 -20.9 -8.8 7.7 2.3 -15.0
120 -23.0 -10.4 7.7 2.0 -17.6
121 -22.1 -10.1 7.7 2.3 -16.4
122 -16.2 -2.7 14.6 10.0 -7.6
123 -10.1 2.3 17.0 13.5 -1.4
124 -5.1 3.2 21.0 17.3 2.9
125 -0.2 10.6 26.2 22.2 7.5
126 2.0 12.2 26.7 22.2 9.4
127 1.4 10.3 24.8 22.2 8.1
128 -3.3 4.8 21.0 17.5 1.5
129 -10.1 -0.8 16.5 12.0 -4.5
130 -16.2 -5.1 12.0 6.6 -10.5
131 -20.9 -8.8 7.7 2.3 -15.0
132 -23.0 -10.4 7.7 2.0 -17.6
133 -22.1 -10.1 7.7 2.3 -16.4
134 -16.2 -2.7 14.6 10.0 -7.6
135 -10.1 2.3 17.0 13.5 -1.4
136 -5.1 3.2 21.0 17.3 2.9
137 -0.2 10.6 26.2 22.2 7.5
138 2.0 12.2 26.7 22.2 9.4
139 1.4 10.3 24.8 22.2 8.1
140 -3.3 4.8 21.0 17.5 1.5
141 -10.1 -0.8 16.5 12.0 -4.5
142 -16.2 -5.1 12.0 6.6 -10.5
143 -20.9 -8.8 7.7 2.3 -15.0
144 -23.0 -10.4 7.7 2.0 -17.6
145 -22.1 -10.1 7.7 2.3 -16.4
146 -16.2 -2.7 14.6 10.0 -7.6
147 -10.1 2.3 17.0 13.5 -1.4
148 -5.1 3.2 21.0 17.3 2.9
149 -0.2 10.6 26.2 22.2 7.5
150 2.0 12.2 26.7 22.2 9.4
151 1.4 10.3 24.8 22.2 8.1
152 -3.3 4.8 21.0 17.5 1.5
153 -10.1 -0.8 16.5 12.0 -4.5
154 -16.2 -5.1 12.0 6.6 -10.5
155 -20.9 -8.8 7.7 2.3 -15.0
156 -23.0 -10.4 7.7 2.0 -17.6
157 -22.1 -10.1 7.7 2.3 -16.4
158 -16.2 -2.7 14.6 10.0 -7.6
159 -10.1 2.3 17.0 13.5 -1.4
160 -5.1 3.2 21.0 17.3 2.9
161 -0.2 10.6 26.2 22.2 7.5
162 2.0 12.2 26.7 22.2 9.4
163 1.4 10.3 24.8 22.2 8.1
164 -3.3 4.8 21.0 17.5 1.5
165 -10.1 -0.8 16.5 12.0 -4.5
166 -16.2 -5.1 12.0 6.6 -10.5
167 -20.9 -8.8 7.7 2.3 -15.0
168 -23.0 -10.4 7.7 2.0 -17.6
169 -22.1 -10.1 7.7 2.3 -16.4
170 -16.2 -2.7 14.6 10.0 -7.6
171 -10.1 2.3 17.0 13.5 -1.4
172 -5.1 3.2 21.0 17.3 2.9
173 -0.2 10.6 26.2 22.2 7.5
174 2.0 12.2 26.7 22.2 9.4
175 1.4 10.3 24.8 22.2 8.1
176 -3.3 4.8 21.0 17.5 1.5
177 -10.1 -0.8 16.5 12.0 -4.5
178 -16.2 -5.1 12.0 6.6 -10.5
179 -20.9 -8.8 7.7 2.3 -15.0
180 -23.0 -10.4 7.7 2.0 -17.6
181 -22.1 -10.1 7.7 2.3 -16.4
182 -16.2 -2.7 14.6 10.0 -7.6
183 -10.1 2.3 17.0 13.5 -1.4
184 -5.1 3.2 21.0 17.3 2.9
185 -0.2 10.6 26.2 22.2 7.5
186 2.0 12.2 26.7 22.2 9.4
187 1.4 10.3 24.8 22.2 8.1
188 -3.3 4.8 21.0 17.5 1.5
189 -10.1 -0.8 16.5 12.0 -4.5
190 -16.2 -5.1 12.0 6.6 -10.5
191 -20.9 -8.8 7.7 2.3 -15.0
}\fut

\pgfplotsset{
  lst/.style={
    width=1097pt, height=298pt, scale only axis, xmin=0,
    axis line style={line width=1.1pt, black!80},
    tick align=outside, major tick length=4pt,
    tick style={line width=0.9pt, black!80},
    xtick pos=left, ytick pos=left,
    grid=major, major grid style={line width=0.6pt, black!10},
    ticklabel style={font=\lbl},
    /pgf/number format/assume math mode=true,
    xticklabel style={rotate=30, anchor=north east, inner sep=1pt},
    yticklabel style={inner sep=2pt},
    label style={font=\lbl},
    title style={font=\ttl, at={(0.5,1)}, anchor=base, yshift=2.5pt},
    ylabel style={at={(axis description cs:-0.032,0.5)}, anchor=center},
    legend cell align=left,
    no markers,
    every axis plot/.append style={line join=round},
    legend image code/.code={\draw[#1] (0pt,0pt) -- (23pt,0pt);},
  },
  obs/.style={line width=0.9pt, dash pattern=on 1pt off 1.6pt, opacity=0.5},
  pred/.style={line width=1.5pt},
  legl/.style={line width=2pt},
  legbox/.style={legend style={
    font=\lbl, draw=black!35, fill=white, fill opacity=0.8, text opacity=1,
    rounded corners=2pt, row sep=4.5pt, column sep=3pt, inner xsep=3pt, inner ysep=3pt,
    nodes={inner sep=1pt, text height=7.5pt, text depth=2.5pt}}},
  basinleg/.style={legbox, legend style={at={(0.0046,0.98)}, anchor=north west}},
}

\begin{document}
\begin{tikzpicture}
\useasboundingbox (0,0) rectangle (1156pt,780pt);
% ---------------- top ----------------
\begin{axis}[lst, basinleg, at={(49pt,456pt)}, anchor=south west,
  xmax=288, ymin=-29.85, ymax=32.05,
  xtick={12,36,60,84,108,132,156,180,204,228,252,276},
  xticklabels={2002,2004,2006,2008,2010,2012,2014,2016,2018,2020,2022,2024},
  ytick={-20,-10,0,10,20,30},
  title={PG-ST-BiLSTM ($\alpha$=0.90, $\beta$=0.10) — Historical Fit (2001–2024) | All Basins},
  xlabel={Year}, ylabel={LSTn (°C)},
  xlabel style={at={(axis description cs:0.5,0)}, anchor=base, yshift=-42.5pt},
]
\addlegendimage{empty legend}\addlegendentry{\mdseries Basin}
\addlegendimage{cA, legl}\addlegendentry{Amu\_Darya}
\addlegendimage{cH, legl}\addlegendentry{Harirud}
\addlegendimage{cHe, legl}\addlegendentry{Helmand}
\addlegendimage{cK, legl}\addlegendentry{Kabul}
\addlegendimage{cN, legl}\addlegendentry{Northern}
\addplot[cA, obs, forget plot] table[x=m, y=A] {\obstop};
\addplot[cA, pred, forget plot] table[x=m, y=A] {\predtop};
\addplot[cH, obs, forget plot] table[x=m, y=H] {\obstop};
\addplot[cH, pred, forget plot] table[x=m, y=H] {\predtop};
\addplot[cHe, obs, forget plot] table[x=m, y=He] {\obstop};
\addplot[cHe, pred, forget plot] table[x=m, y=He] {\predtop};
\addplot[cK, obs, forget plot] table[x=m, y=K] {\obstop};
\addplot[cK, pred, forget plot] table[x=m, y=K] {\predtop};
\addplot[cN, obs, forget plot] table[x=m, y=N] {\obstop};
\addplot[cN, pred, forget plot] table[x=m, y=N] {\predtop};
\end{axis}
\begin{axis}[lst, legbox, at={(49pt,456pt)}, anchor=south west, hide axis,
  xmax=288, ymin=-29.85, ymax=32.05,
  legend style={at={(0.9945,0.017)}, anchor=south east, row sep=6pt},
]
\addlegendimage{gray, line width=0.9pt, dash pattern=on 1pt off 1.6pt, opacity=0.6}
\addlegendentry{Observed}
\addlegendimage{gray!80!black, legl}
\addlegendentry{Predicted}
\end{axis}
% ---------------- bottom ----------------
\begin{axis}[lst, basinleg, at={(49pt,53pt)}, anchor=south west,
  xmax=192, ymin=-25.6, ymax=29.6,
  xtick={12,36,60,84,108,132,156,180},
  xticklabels={2026,2028,2030,2032,2034,2036,2038,2040},
  ytick={-20,-10,0,10,20},
  title={PG-ST-BiLSTM ($\alpha$=0.90, $\beta$=0.10) — Future Prediction (2025–2040) | All Basins},
  xlabel={Year}, ylabel={LSTn (°C)},
  xlabel style={at={(axis description cs:0.5,0)}, anchor=base, yshift=-44pt},
]
\addlegendimage{empty legend}\addlegendentry{\mdseries Basin}
\addlegendimage{cA, legl}\addlegendentry{Amu\_Darya}
\addlegendimage{cH, legl}\addlegendentry{Harirud}
\addlegendimage{cHe, legl}\addlegendentry{Helmand}
\addlegendimage{cK, legl}\addlegendentry{Kabul}
\addlegendimage{cN, legl}\addlegendentry{Northern}
\addplot[cA, pred, forget plot] table[x=m, y=A] {\fut};
\addplot[cH, pred, forget plot] table[x=m, y=H] {\fut};
\addplot[cHe, pred, forget plot] table[x=m, y=He] {\fut};
\addplot[cK, pred, forget plot] table[x=m, y=K] {\fut};
\addplot[cN, pred, forget plot] table[x=m, y=N] {\fut};
\end{axis}
\end{tikzpicture}
\end{document}
